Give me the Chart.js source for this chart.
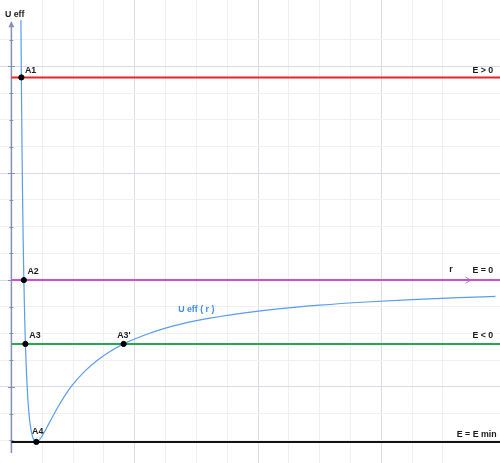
<!DOCTYPE html>
<html>
<head>
<meta charset="utf-8">
<script src="https://cdn.jsdelivr.net/npm/chart.js@4/dist/chart.umd.min.js"></script>
<style>
  html, body { margin: 0; padding: 0; background: #fff; }
  #wrap { width: 500px; height: 463px; }
</style>
</head>
<body>
<div id="wrap"><canvas id="ueffChart" width="500" height="463"></canvas></div>
<script>
// energy levels (horizontal lines)
const levelNames = ['E > 0', 'E = 0', 'E < 0', 'E = E min'];
const levelValues = [7.59, 0, -2.39, -6.06];
const levelColors = ['#e32727', '#cc4fd0', '#27a552', '#111111'];

// U eff (r)
const rValues = [0.309, 0.316, 0.323, 0.332, 0.345, 0.36, 0.38, 0.404, 0.43, 0.454, 0.49, 0.54, 0.6, 0.68, 0.75, 0.808, 0.88, 1.0, 1.15, 1.3, 1.5, 1.7, 2.0, 2.4, 2.8, 3.2, 3.64, 4.2, 5, 6, 7, 8.5, 10, 11.5, 13, 14.5, 15.7];
const uValues = [9.74, 8.63, 7.60, 6.39, 4.85, 3.32, 1.63, 0, -1.38, -2.39, -3.51, -4.56, -5.33, -5.84, -6.02, -6.06, -6.02, -5.83, -5.52, -5.19, -4.77, -4.39, -3.90, -3.39, -2.99, -2.67, -2.39, -2.11, -1.80, -1.52, -1.32, -1.10, -0.94, -0.82, -0.73, -0.66, -0.61];

// marked points
const pointNames = ['A1', 'A2', 'A3', "A3'", 'A4'];
const pointR = [0.323, 0.404, 0.454, 3.64, 0.808];
const pointU = [7.59, 0, -2.39, -2.39, -6.06];

// view window
const xMin = -0.37, xMax = 15.85;
const yMin = -6.85, yMax = 10.49;

// text labels
const labels = [
    { text: 'U eff', x: -0.21, y: 9.85, align: 'left' },
    { text: 'A1', x: 0.44, y: 7.77, align: 'left' },
    { text: 'A2', x: 0.52, y: 0.21, align: 'left' },
    { text: 'A3', x: 0.58, y: -2.15, align: 'left' },
    { text: "A3'", x: 3.43, y: -2.18, align: 'left' },
    { text: 'A4', x: 0.67, y: -5.77, align: 'left' },
    { text: 'U eff ( r )', x: 5.41, y: -1.2, align: 'left', color: '#3f8de6' },
    { text: 'r', x: 14.2, y: 0.3, align: 'left' },
    { text: 'E > 0', x: 15.63, y: 7.74, align: 'right' },
    { text: 'E = 0', x: 15.63, y: 0.27, align: 'right' },
    { text: 'E < 0', x: 15.63, y: -2.15, align: 'right' },
    { text: 'E = E min', x: 15.74, y: -5.87, align: 'right' }
];

function isMajor(v) {
    const r = Math.round(v);
    return Math.abs(v - r) < 1e-6 && r % 4 === 0;
}

function keepIntegers(axis) {
    axis.ticks = axis.ticks.filter(function(t) { return Math.abs(t.value - Math.round(t.value)) < 1e-6; });
}

const axisPlugin = {
    id: 'axisPlugin',
    beforeDatasetsDraw(chart) {
        const ctx = chart.ctx;
        const xs = chart.scales.x, ys = chart.scales.y;
        const x0 = xs.getPixelForValue(0);
        const y0 = ys.getPixelForValue(0);
        const top = ys.getPixelForValue(9.66);
        const bottom = ys.getPixelForValue(-6.48);
        const right = xs.getPixelForValue(14.9);
        ctx.save();
        ctx.strokeStyle = '#8590b8';
        ctx.fillStyle = '#8590b8';
        ctx.lineWidth = 1.5;
        // y axis
        ctx.beginPath();
        ctx.moveTo(x0, bottom);
        ctx.lineTo(x0, top);
        ctx.stroke();
        ctx.beginPath();
        ctx.moveTo(x0, top - 1);
        ctx.lineTo(x0 - 3, top + 5);
        ctx.lineTo(x0 + 3, top + 5);
        ctx.closePath();
        ctx.fill();
        // ticks
        ctx.lineWidth = 1;
        for (let v = -6; v <= 9; v++) {
            const py = Math.round(ys.getPixelForValue(v)) + 0.5;
            const len = isMajor(v) ? 3.5 : 2;
            ctx.beginPath();
            ctx.moveTo(x0 - len, py);
            ctx.lineTo(x0 + len, py);
            ctx.stroke();
        }
        // x axis
        ctx.lineWidth = 1.5;
        ctx.beginPath();
        ctx.moveTo(x0, y0);
        ctx.lineTo(right, y0);
        ctx.stroke();
        ctx.lineWidth = 1;
        ctx.beginPath();
        ctx.moveTo(right - 5, y0 - 3);
        ctx.lineTo(right, y0);
        ctx.lineTo(right - 5, y0 + 3);
        ctx.stroke();
        ctx.restore();
    },
    afterDatasetsDraw(chart) {
        const ctx = chart.ctx;
        const xs = chart.scales.x, ys = chart.scales.y;
        ctx.save();
        ctx.font = 'bold 8.8px "Liberation Sans", Arial, sans-serif';
        ctx.textBaseline = 'alphabetic';
        labels.forEach(function(l) {
            ctx.fillStyle = l.color || '#1a1a1a';
            ctx.textAlign = l.align;
            ctx.fillText(l.text, xs.getPixelForValue(l.x), ys.getPixelForValue(l.y));
        });
        ctx.restore();
    }
};

document.addEventListener('DOMContentLoaded', function() {
    const datasets = [];

    levelValues.forEach(function(v, i) {
        datasets.push({
            label: levelNames[i],
            data: [{ x: 0, y: v }, { x: xMax, y: v }],
            showLine: true,
            borderColor: levelColors[i],
            borderWidth: 2,
            pointRadius: 0,
            order: 2
        });
    });

    datasets.push({
        label: 'U eff ( r )',
        data: rValues.map(function(r, i) { return { x: r, y: uValues[i] }; }),
        showLine: true,
        borderColor: '#5a9cf0',
        borderWidth: 1.2,
        pointRadius: 0,
        cubicInterpolationMode: 'monotone',
        order: 1
    });

    // black dots on top of everything
    datasets.push({
        label: 'points',
        data: pointR.map(function(r, i) { return { x: r, y: pointU[i] }; }),
        showLine: false,
        pointRadius: 2.6,
        pointBackgroundColor: '#000',
        pointBorderColor: '#000',
        pointBorderWidth: 1,
        order: 0
    });

    const gridOpts = {
        drawTicks: false,
        tickLength: 0,
        lineWidth: 1,
        color: function(c) {
            return c.tick && isMajor(c.tick.value) ? '#d8dbe8' : '#eef0f6';
        }
    };

    new Chart(document.getElementById('ueffChart'), {
        type: 'scatter',
        data: { datasets: datasets },
        options: {
            responsive: false,
            animation: false,
            devicePixelRatio: 1,
            layout: { padding: 0, autoPadding: false },
            plugins: {
                legend: { display: false },
                tooltip: { enabled: false }
            },
            scales: {
                x: {
                    type: 'linear',
                    min: xMin,
                    max: xMax,
                    border: { display: false },
                    grid: gridOpts,
                    ticks: { display: false, stepSize: 1 },
                    afterBuildTicks: keepIntegers
                },
                y: {
                    type: 'linear',
                    min: yMin,
                    max: yMax,
                    border: { display: false },
                    grid: gridOpts,
                    ticks: { display: false, stepSize: 1 },
                    afterBuildTicks: keepIntegers
                }
            }
        },
        plugins: [axisPlugin]
    });
});
</script>
</body>
</html>
